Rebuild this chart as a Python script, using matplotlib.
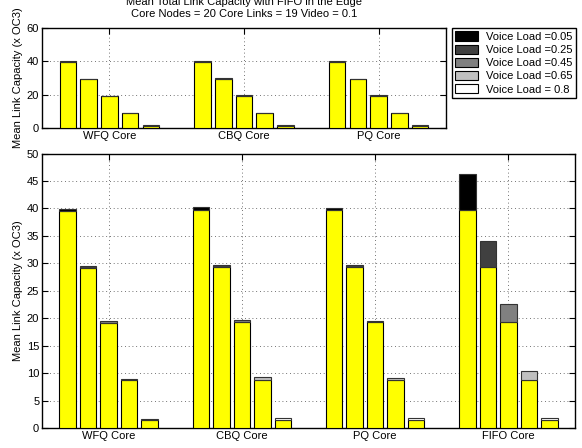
import matplotlib
matplotlib.use("Agg")
import matplotlib.pyplot as plt
from matplotlib.patches import Patch

plt.rcParams['font.family'] = ['Liberation Sans', 'DejaVu Sans']
plt.rcParams['font.size'] = 8

# data
cores = ["WFQ Core", "CBQ Core", "PQ Core", "FIFO Core"]
voice_labels = ["Voice Load =0.05", "Voice Load =0.25", "Voice Load =0.45",
                "Voice Load =0.65", "Voice Load = 0.8"]
voice_colors = ["#000000", "#404040", "#808080", "#c0c0c0", "#ffffff"]

# yellow (base) part of each bar, per core, one value per voice load
video_wfq = [39.6, 29.2, 19.2, 8.8, 1.4]
video_cbq = [39.7, 29.3, 19.3, 8.8, 1.4]
video_pq = [39.7, 29.3, 19.3, 8.8, 1.4]
video_fifo = [39.7, 29.3, 19.3, 8.8, 1.4]

# extra capacity on top of the yellow part
voice_wfq = [0.3, 0.3, 0.2, 0.2, 0.2]
voice_cbq = [0.5, 0.4, 0.4, 0.4, 0.4]
voice_pq = [0.4, 0.3, 0.2, 0.3, 0.35]
voice_fifo = [6.6, 4.8, 3.2, 1.6, 0.4]

video = [video_wfq, video_cbq, video_pq, video_fifo]
voice = [voice_wfq, voice_cbq, voice_pq, voice_fifo]

step = 0.154
width = 0.123


def draw_groups(ax, n):
    for g in range(n):
        for i in range(5):
            x = g + 1 + (i - 2) * step
            ax.bar(x, video[g][i], width, color="#ffff00", edgecolor="black",
                   linewidth=0.8, zorder=3)
            ax.bar(x, voice[g][i], width, bottom=video[g][i],
                   color=voice_colors[i], edgecolor="#333333",
                   linewidth=0.8, zorder=3)
    ax.set_xlim(0.5, n + 0.5)
    ax.set_xticks(range(1, n + 1))
    ax.set_xticklabels(cores[:n])
    ax.grid(True, linestyle=(0, (1, 3.5)), color="#444444", linewidth=0.6)
    ax.tick_params(direction="in", top=True, right=True, length=4, pad=2)
    for s in ax.spines.values():
        s.set_linewidth(1.0)
    ax.set_ylabel("Mean Link Capacity (x OC3)", labelpad=3)


fig = plt.figure(figsize=(5.82, 4.48), dpi=100)

ax1 = fig.add_axes([42 / 582, 1 - 128 / 448, 404 / 582, 100 / 448])
draw_groups(ax1, 3)
ax1.set_ylim(0, 60)
ax1.set_yticks([0, 20, 40, 60])
ax1.set_title("Mean Total Link Capacity with FIFO in the Edge\n"
              "Core Nodes = 20 Core Links = 19 Video = 0.1", pad=8, fontsize=8)

ax2 = fig.add_axes([42 / 582, 1 - 428 / 448, 533 / 582, 274.5 / 448])
draw_groups(ax2, 4)
ax2.set_ylim(0, 50)
ax2.set_yticks(range(0, 51, 5))

handles = [Patch(facecolor=c, edgecolor="black", linewidth=0.8) for c in voice_colors]
leg = fig.legend(handles, voice_labels, loc="upper left",
                 bbox_to_anchor=(452 / 582, 1 - 28 / 448), borderaxespad=0,
                 fancybox=False, edgecolor="black", framealpha=1,
                 handlelength=2.0, handleheight=0.9, labelspacing=0.25,
                 handletextpad=0.8, borderpad=0.3)
leg.get_frame().set_linewidth(1.0)

fig.savefig("out.png", dpi=100)
